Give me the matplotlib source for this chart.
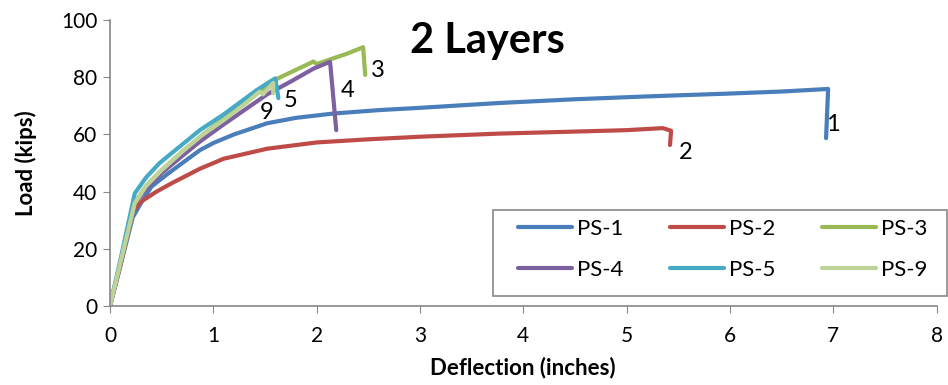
import matplotlib
matplotlib.use("Agg")
import matplotlib.pyplot as plt
from matplotlib.patches import Rectangle

plt.rcParams['font.family'] = ['Lato', 'DejaVu Sans']

# Kurven (Durchbiegung in inch, Last in kips)
ps1_x = [0, 0.1, 0.22, 0.3, 0.4, 0.55, 0.7, 0.87, 1.0, 1.2, 1.52, 1.8, 2.16, 2.6, 3.0, 3.77, 4.5, 5.2, 6.0, 6.5, 6.95, 6.93]
ps1_y = [0, 14, 31, 36, 41.7, 46, 50, 54.5, 57, 60, 63.9, 65.8, 67.3, 68.5, 69.3, 71, 72.3, 73.3, 74.3, 75, 75.9, 58.7]

ps2_x = [0, 0.1, 0.22, 0.3, 0.45, 0.6, 0.87, 1.1, 1.52, 2.0, 2.5, 3.0, 3.77, 4.5, 5.0, 5.35, 5.43, 5.42]
ps2_y = [0, 14, 33, 36.5, 40, 43, 48, 51.5, 55, 57.2, 58.3, 59.2, 60.3, 61, 61.5, 62.2, 61.3, 56.3]

ps3_x = [0, 0.1, 0.24, 0.35, 0.5, 0.7, 0.9, 1.1, 1.3, 1.45, 1.58, 1.8, 1.97, 2.0, 2.16, 2.3, 2.45, 2.47]
ps3_y = [0, 15, 36, 42, 47.5, 54, 60, 65.5, 71, 75, 78.8, 82.6, 85.5, 84.6, 86.6, 88.3, 90.5, 80.8]

ps4_x = [0, 0.1, 0.24, 0.35, 0.5, 0.7, 0.87, 1.1, 1.3, 1.52, 1.75, 1.97, 2.13, 2.19]
ps4_y = [0, 15, 36, 41, 46.5, 52.5, 57.5, 63.5, 68.5, 74, 78.5, 83, 85.4, 61.5]

ps5_x = [0, 0.1, 0.24, 0.35, 0.48, 0.7, 0.87, 1.1, 1.42, 1.55, 1.6, 1.63]
ps5_y = [0, 16, 39.4, 45, 50, 56.5, 61.5, 67, 75.5, 78.5, 79.6, 72.7]

ps9_x = [0, 0.1, 0.24, 0.35, 0.5, 0.7, 0.9, 1.1, 1.3, 1.45, 1.48, 1.58, 1.58]
ps9_y = [0, 15, 36, 42, 47.5, 54, 60, 65, 70.5, 75, 74, 78, 74.4]

names = ['PS-1', 'PS-2', 'PS-3', 'PS-4', 'PS-5', 'PS-9']
colors = ['#4A7EBB', '#BE4B48', '#98B954', '#7D60A0', '#46AAC5', '#BDD398']

# Beschriftungen an den Kurvenenden
tags = ['1', '2', '3', '4', '5', '9']
tag_x = [7.0, 5.57, 2.59, 2.3, 1.75, 1.52]
tag_y = [63.6, 53.8, 82.5, 75.5, 72, 67.8]

fig = plt.figure(figsize=(9.48, 3.85), dpi=100)
ax = fig.add_axes([0.116, 0.205, 0.872, 0.743])

series = [(ps1_x, ps1_y), (ps2_x, ps2_y), (ps3_x, ps3_y),
          (ps4_x, ps4_y), (ps5_x, ps5_y), (ps9_x, ps9_y)]
lines = []
for (xs, ys), n, c in zip(series, names, colors):
    ln, = ax.plot(xs, ys, color=c, lw=3, label=n, solid_capstyle='round', solid_joinstyle='round')
    lines.append(ln)

for t, tx, ty in zip(tags, tag_x, tag_y):
    ax.text(tx, ty, t, fontsize=17, ha='center', va='center')

ax.text(3.65, 92.6, '2 Layers', fontsize=30, fontweight='bold', ha='center', va='center')

ax.set_xlim(0, 8)
ax.set_ylim(0, 100)
ax.set_xticks(range(0, 9))
ax.set_yticks(range(0, 101, 20))
ax.tick_params(labelsize=15, color='#888888', length=5, direction='out')
ax.tick_params(axis='x', pad=9)
ax.tick_params(axis='y', pad=4)
for s in ['top', 'right']:
    ax.spines[s].set_visible(False)
for s in ['left', 'bottom']:
    ax.spines[s].set_color('#888888')
    ax.spines[s].set_linewidth(1.2)

ax.set_xlabel('Deflection (inches)', fontsize=16, fontweight='bold', labelpad=8)
ax.set_ylabel('Load (kips)', fontsize=16, fontweight='bold', labelpad=17)

# Legendenrahmen separat, Legende zeilenweise wie im Original
ax.add_patch(Rectangle((0.4631, 0.035), 0.549, 0.3007, transform=ax.transAxes,
                       fill=False, edgecolor='#888888', lw=1.2, clip_on=False, zorder=5))
order = [0, 3, 1, 4, 2, 5]
leg = ax.legend([lines[i] for i in order], [names[i] for i in order],
                loc='upper left', bbox_to_anchor=(0.4934, 0.304),
                ncol=3, fontsize=16, handlelength=2.45, frameon=False,
                borderaxespad=0, borderpad=0, handletextpad=0.2,
                labelspacing=0.95, columnspacing=2.1)

fig.savefig('out.png', dpi=100)
